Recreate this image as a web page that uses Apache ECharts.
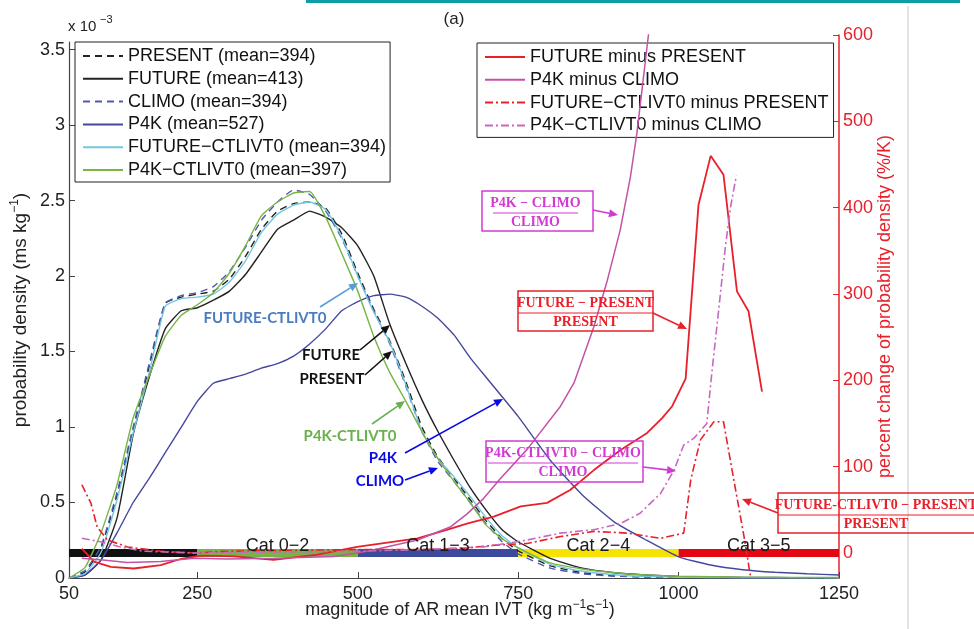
<!DOCTYPE html>
<html>
<head>
<meta charset="utf-8">
<script src="https://cdn.jsdelivr.net/npm/echarts@6/dist/echarts.min.js"></script>
<style>
html, body { margin: 0; padding: 0; background: #fff; }
#chart { width: 974px; height: 629px; }
</style>
</head>
<body>
<div id="chart"></div>
<script>
// IVT grid (kg m-1 s-1) used for the pdf curves, values in 1e-3 ms/kg
const ivt = [50, 75, 100, 125, 150, 175, 200, 225, 250, 275, 300, 325, 350, 375, 400, 425, 450, 475, 500, 525,
  550, 575, 600, 625, 650, 675, 700, 725, 750, 800, 850, 900, 950, 1000, 1050, 1100, 1150, 1200, 1250]
const present = [0, 0.04, 0.2, 0.55, 0.98, 1.4, 1.82, 1.86, 1.88, 1.9, 1.98, 2.13, 2.31, 2.43, 2.48, 2.49, 2.45, 2.28, 2.02, 1.78,
  1.57, 1.3, 1.0, 0.8, 0.66, 0.52, 0.38, 0.26, 0.18, 0.08, 0.035, 0.015, 0.008, 0.004, 0.002, 0.001, 0, 0, 0]
const future = [0, 0.02, 0.12, 0.4, 0.95, 1.33, 1.65, 1.77, 1.79, 1.84, 1.9, 2.01, 2.16, 2.31, 2.37, 2.43, 2.39, 2.32, 2.2, 2.0,
  1.68, 1.42, 1.18, 0.97, 0.78, 0.6, 0.45, 0.32, 0.24, 0.13, 0.065, 0.035, 0.02, 0.01, 0.006, 0.004, 0.003, 0.002, 0.002]
const climo = [0, 0.05, 0.21, 0.57, 1.0, 1.42, 1.82, 1.87, 1.89, 1.93, 2.03, 2.19, 2.37, 2.49, 2.57, 2.54, 2.43, 2.25, 2.0, 1.77,
  1.55, 1.27, 0.97, 0.77, 0.64, 0.5, 0.36, 0.24, 0.16, 0.065, 0.028, 0.012, 0.005, 0.002, 0.001, 0, 0, 0, 0]
const p4k = [0, 0.02, 0.12, 0.3, 0.5, 0.66, 0.83, 1.0, 1.17, 1.29, 1.32, 1.35, 1.39, 1.42, 1.47, 1.55, 1.65, 1.77, 1.83, 1.87,
  1.88, 1.86, 1.8, 1.72, 1.61, 1.46, 1.33, 1.2, 1.07, 0.78, 0.55, 0.37, 0.25, 0.14, 0.086, 0.055, 0.038, 0.028, 0.02]
const futureCt = [0, 0.03, 0.17, 0.52, 0.96, 1.36, 1.8, 1.85, 1.86, 1.88, 1.96, 2.1, 2.29, 2.41, 2.47, 2.49, 2.44, 2.26, 2.0, 1.76,
  1.56, 1.28, 0.97, 0.79, 0.67, 0.54, 0.4, 0.28, 0.2, 0.09, 0.045, 0.022, 0.01, 0.005, 0.003, 0.002, 0.001, 0.001, 0]
const p4kCt = [0, 0.07, 0.3, 0.62, 1.06, 1.34, 1.6, 1.74, 1.81, 1.89, 2.02, 2.2, 2.4, 2.49, 2.55, 2.56, 2.39, 2.15, 1.9, 1.6,
  1.36, 1.17, 0.97, 0.79, 0.64, 0.5, 0.35, 0.26, 0.2, 0.1, 0.06, 0.035, 0.02, 0.012, 0.008, 0.005, 0.004, 0.003, 0.003]

// percent change (%/K), right axis
const fmpX = [70, 89, 115, 151, 193, 224, 255, 307, 369, 437, 499, 593, 640, 670, 712, 754, 795, 831, 868, 909,
  951, 974, 990, 1011, 1031, 1050, 1070, 1091, 1109, 1130]
const fmpY = [5, -10, -16, -18, -14, -7, -3, -4, -8, -2, 7, 17, 27, 34, 42, 54, 58, 73, 96, 119,
  139, 156, 170, 202, 403, 460, 438, 303, 280, 187]
const pmcX = [70, 99, 141, 193, 245, 297, 369, 463, 515, 593, 644, 670, 696, 722, 764, 816, 837, 868, 889, 909, 925, 935, 953, 958]
const pmcY = [-6, -8, -11, -10, -6, -7, -6, -4, 2, 15, 30, 45, 63, 86, 120, 170, 197, 262, 316, 374, 436, 486, 600, 640]
const fcmpX = [70, 84, 94, 110, 141, 193, 245, 297, 400, 500, 600, 660, 712, 764, 816, 868, 920, 972, 1008, 1019,
  1034, 1055, 1070, 1086, 1102, 1112]
const fcmpY = [79, 58, 30, 15, 7, 2, 0, 2, 3, 4, 4, 5, 9, 11, 19, 25, 23, 17, 23, 85, 131, 152, 152, 85, 19, -27]
const pcmcX = [70, 99, 130, 166, 245, 350, 500, 600, 696, 764, 816, 868, 909, 940, 972, 993, 1008, 1024, 1044, 1052,
  1063, 1073, 1081, 1090]
const pcmcY = [17, 13, 7, 2, 0, 1, 2, 4, 7, 15, 23, 27, 34, 46, 69, 96, 125, 133, 150, 210, 285, 355, 401, 437]

// AR categories
const catEdges = [50, 250, 500, 750, 1000, 1250]
const catColors = ['#111111', '#78b444', '#3c4a9c', '#f6e400', '#e30613']
const catNames = ['Cat 0−2', 'Cat 1−3', 'Cat 2−4', 'Cat 3−5']
const catMid = [375, 625, 875, 1125]

const xTicks = [50, 250, 500, 750, 1000, 1250]
const leftTicks = [0, 0.5, 1, 1.5, 2, 2.5, 3, 3.5]
const rightTicks = [0, 100, 200, 300, 400, 500, 600]

const FONT = "'Liberation Sans', Arial, sans-serif"
const RED = '#e8202a'
const MAG = '#d23bd2'

const pdfNames = ['PRESENT (mean=394)', 'FUTURE (mean=413)', 'CLIMO (mean=394)', 'P4K (mean=527)',
  'FUTURE−CTLIVT0 (mean=394)', 'P4K−CTLIVT0 (mean=397)']
const chgNames = ['FUTURE minus PRESENT', 'P4K minus CLIMO', 'FUTURE−CTLIVT0 minus PRESENT', 'P4K−CTLIVT0 minus CLIMO']

function pdfSeries(name, vals, color, type) {
  return {
    name: name, type: 'line', xAxisIndex: 0, yAxisIndex: 0, symbol: 'none', smooth: 0.15, silent: true, z: 3,
    color: color,
    lineStyle: { color: color, width: 1.4, type: type || 'solid' },
    data: ivt.map(function(x, i) { return [x, vals[i]] })
  }
}
function chgSeries(name, xs, ys, color, type, width) {
  return {
    name: name, type: 'line', xAxisIndex: 1, yAxisIndex: 1, symbol: 'none', silent: true, z: 4,
    color: color,
    lineStyle: { color: color, width: width || 1.5, type: type || 'solid' },
    data: xs.map(function(x, i) { return [x, ys[i]] })
  }
}

const series = []
catColors.forEach(function(c, i) {
  series.push({
    type: 'line', xAxisIndex: 1, yAxisIndex: 1, symbol: 'none', silent: true, z: 1,
    lineStyle: { color: c, width: 8, cap: 'butt' },
    data: [[catEdges[i], 0], [catEdges[i + 1], 0]]
  })
})
series.push({
  type: 'scatter', xAxisIndex: 1, yAxisIndex: 1, symbolSize: 0, silent: true, z: 6,
  itemStyle: { opacity: 1 },
  label: { show: true, position: 'top', distance: -2, fontSize: 18, fontFamily: FONT, color: '#1a1a1a', opacity: 1,
    formatter: function(p) { return catNames[p.dataIndex] } },
  data: catMid.map(function(x) { return [x, 0] })
})
const dashed = [7, 5]
const dashDot = [8, 3, 2, 3]
series.push(pdfSeries(pdfNames[0], present, '#222222', dashed))
series.push(pdfSeries(pdfNames[1], future, '#222222'))
series.push(pdfSeries(pdfNames[2], climo, '#4e58b0', dashed))
series.push(pdfSeries(pdfNames[3], p4k, '#44489c'))
series.push(pdfSeries(pdfNames[4], futureCt, '#72c6e2'))
series.push(pdfSeries(pdfNames[5], p4kCt, '#78b446'))
series.push(chgSeries(chgNames[0], fmpX, fmpY, RED, 'solid', 1.8))
series.push(chgSeries(chgNames[1], pmcX, pmcY, '#c452a6', 'solid', 1.5))
series.push(chgSeries(chgNames[2], fcmpX, fcmpY, RED, dashDot, 1.6))
series.push(chgSeries(chgNames[3], pcmcX, pcmcY, '#c868c0', dashDot, 1.6))

// annotation helpers
function arrow(x1, y1, x2, y2, color) {
  const a = Math.atan2(y2 - y1, x2 - x1)
  const L = 9, W = 4
  const bx = x2 - L * Math.cos(a), by = y2 - L * Math.sin(a)
  return [
    { type: 'line', shape: { x1: x1, y1: y1, x2: bx, y2: by }, style: { stroke: color, lineWidth: 1.6 }, z: 100 },
    { type: 'polygon', shape: { points: [[x2, y2], [bx - W * Math.sin(a), by + W * Math.cos(a)], [bx + W * Math.sin(a), by - W * Math.cos(a)]] },
      style: { fill: color }, z: 100 }
  ]
}
function label(x, y, text, color) {
  return { type: 'text', x: x, y: y, z: 100,
    style: { text: text, font: "bold 15px Lato, 'Open Sans', sans-serif", fill: color, textAlign: 'center', textVerticalAlign: 'middle' } }
}
function fracBox(x, y, w, h, num, den, color, lx1, lx2) {
  const cx = (lx1 + lx2) / 2
  const f = "bold 14px 'Liberation Serif', 'DejaVu Serif', serif"
  return [
    { type: 'rect', shape: { x: x, y: y, width: w, height: h }, style: { fill: 'none', stroke: color, lineWidth: 1.5 }, z: 100 },
    { type: 'text', x: cx, y: y + 12, z: 100, style: { text: num, font: f, fill: color, textAlign: 'center', textVerticalAlign: 'middle' } },
    { type: 'line', shape: { x1: lx1, y1: y + 22, x2: lx2, y2: y + 22 }, style: { stroke: color, lineWidth: 1 }, z: 100 },
    { type: 'text', x: cx, y: y + 31, z: 100, style: { text: den, font: f, fill: color, textAlign: 'center', textVerticalAlign: 'middle' } }
  ]
}

let graphics = [
  { type: 'rect', shape: { x: 306, y: 0, width: 654, height: 3 }, style: { fill: '#0e9ca6' }, z: 100 },
  { type: 'line', shape: { x1: 908, y1: 6, x2: 908, y2: 629 }, style: { stroke: '#c8c8c8', lineWidth: 1 }, z: 0 },
  { type: 'text', x: 68, y: 27, z: 100, style: { text: 'x 10', font: '15px ' + FONT, fill: '#222', textAlign: 'left', textVerticalAlign: 'middle' } },
  { type: 'text', x: 100, y: 20, z: 100, style: { text: '−3', font: '11px ' + FONT, fill: '#222', textAlign: 'left', textVerticalAlign: 'middle' } },
  { type: 'text', x: 454, y: 19, z: 100, style: { text: '(a)', font: '17px ' + FONT, fill: '#222', textAlign: 'center', textVerticalAlign: 'middle' } },
  label(265, 318, 'FUTURE-CTLIVT0', '#4a7dc0'),
  label(331, 355, 'FUTURE', '#111'),
  label(332, 379, 'PRESENT', '#111'),
  label(350, 436, 'P4K-CTLIVT0', '#6ab04c'),
  label(383, 458, 'P4K', '#0a0ae6'),
  label(380, 481, 'CLIMO', '#0a0ae6')
]
graphics = graphics.concat(
  arrow(320, 307, 358, 283, '#5a9ad8'),
  arrow(360, 350, 390, 325, '#111'),
  arrow(365, 375, 392, 351, '#111'),
  arrow(372, 424, 405, 401, '#6ab04c'),
  arrow(405, 453, 503, 399, '#0a0ae6'),
  arrow(405, 480, 438, 468, '#0a0ae6'),
  fracBox(482, 191, 111, 40, 'P4K − CLIMO', 'CLIMO', MAG, 493, 578),
  arrow(593, 210, 618, 215, MAG),
  fracBox(518, 291, 135, 40, 'FUTURE − PRESENT', 'PRESENT', RED, 518, 653),
  arrow(653, 313, 687, 329, RED),
  fracBox(486, 441, 157, 41, 'P4K-CTLIVT0 − CLIMO', 'CLIMO', MAG, 488, 638),
  arrow(643, 467, 676, 471, MAG),
  fracBox(778, 493, 200, 40, 'FUTURE-CTLIVT0 − PRESENT', 'PRESENT', RED, 778, 974),
  arrow(778, 513, 742, 499, RED)
)

function supRich(color, size) {
  return {
    t: { fontSize: size, fontFamily: FONT, color: color, lineHeight: size + 5 },
    s: { fontSize: Math.round(size * 0.65), fontFamily: FONT, color: color, verticalAlign: 'top' }
  }
}
function plain(v) { return String(v) }

const legendBase = {
  orient: 'vertical', itemWidth: 40, itemHeight: 14, itemGap: 2.8, selectedMode: false,
  itemStyle: { opacity: 0 },
  backgroundColor: '#fff', borderColor: '#222', borderWidth: 1, borderRadius: 0,
  textStyle: { fontSize: 18, fontFamily: FONT, color: '#111', lineHeight: 20 }
}

const option = {
  animation: false,
  backgroundColor: '#fff',
  grid: [
    { left: 69, right: 135, top: 42, bottom: 51 },
    { left: 69, right: 135, top: 35, bottom: 51 }
  ],
  legend: [
    Object.assign({}, legendBase, { data: pdfNames, left: 75, top: 42, padding: [4, 4, 2, 7] }),
    Object.assign({}, legendBase, { data: chgNames, left: 477, top: 43, padding: [4, 5, 2, 7] })
  ],
  xAxis: [
    {
      type: 'value', gridIndex: 0, min: 50, max: 1250,
      name: '{t|magnitude of AR mean IVT (kg m}{s|−1}{t|s}{s|−1}{t|)}',
      nameLocation: 'middle', nameGap: 21, nameMoveOverlap: false,
      nameTextStyle: { rich: supRich('#222', 18), padding: [0, 0, 0, 12] },
      axisLine: { lineStyle: { color: '#444', width: 1.2 } },
      axisTick: { inside: true, length: 6, customValues: xTicks, lineStyle: { color: '#444' } },
      axisLabel: { customValues: xTicks, formatter: plain, fontSize: 18, fontFamily: FONT, color: '#222', margin: 7 },
      splitLine: { show: false }
    },
    { type: 'value', gridIndex: 1, min: 50, max: 1250, show: false }
  ],
  yAxis: [
    {
      type: 'value', gridIndex: 0, position: 'left', min: 0, max: 3.55,
      name: '{t|probability density (ms kg}{s|−1}{t|)}',
      nameLocation: 'middle', nameGap: 36, nameRotate: 90, nameMoveOverlap: false,
      nameTextStyle: { rich: supRich('#222', 19) },
      axisLine: { show: true, lineStyle: { color: '#444', width: 1.2 } },
      axisTick: { show: true, inside: true, length: 6, customValues: leftTicks, lineStyle: { color: '#444' } },
      axisLabel: { customValues: leftTicks, formatter: plain, fontSize: 18, fontFamily: FONT, color: '#222', margin: 4 },
      splitLine: { show: false }
    },
    {
      type: 'value', gridIndex: 1, position: 'right', min: -29, max: 600,
      name: 'percent change of probability density (%/K)',
      nameLocation: 'middle', nameGap: 37, nameRotate: 90, nameMoveOverlap: false,
      nameTextStyle: { fontSize: 18, fontFamily: FONT, color: RED },
      axisLine: { show: true, lineStyle: { color: RED, width: 1.5 } },
      axisTick: { show: true, inside: true, length: 6, customValues: rightTicks, lineStyle: { color: RED } },
      axisLabel: { customValues: rightTicks, formatter: plain, fontSize: 18, fontFamily: FONT, color: RED, margin: 4 },
      splitLine: { show: false }
    }
  ],
  graphic: graphics,
  series: series
}

const myChart = echarts.init(document.getElementById('chart'))
myChart.setOption(option)
</script>
</body>
</html>
